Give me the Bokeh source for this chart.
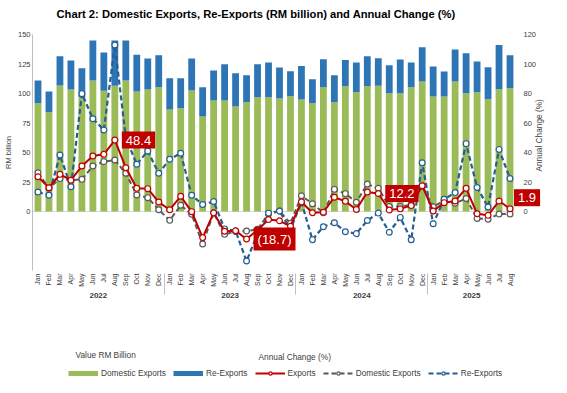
import math
from bokeh.plotting import figure
from bokeh.layouts import column
from bokeh.models import (FactorRange, Range1d, LinearAxis, FixedTicker, Span,
                          Label, Legend, LegendItem, ColumnDataSource)
from bokeh.embed import file_html
from bokeh.resources import INLINE

# ---------------- data ----------------
years = ["2022"] * 12 + ["2023"] * 12 + ["2024"] * 12 + ["2025"] * 8
months = (["Jan", "Feb", "Mar", "Apr", "May", "Jun", "Jul", "Aug", "Sep", "Oct", "Nov", "Dec"] * 3
          + ["Jan", "Feb", "Mar", "Apr", "May", "Jun", "Jul", "Aug"])

# RM billion
domestic_exports = [91.8, 84.2, 106.8, 103.4, 96.9, 111.0, 102.3, 106.5, 111.0, 101.7, 103.4, 105.4,
                    86.4, 87.6, 102.5, 80.6, 94.0, 94.0, 89.0, 92.6, 96.9, 96.9, 95.8, 97.7,
                    94.9, 91.8, 105.4, 92.6, 106.2, 101.1, 106.2, 106.5, 100.3, 100.3, 105.4, 110.2,
                    97.5, 97.5, 110.2, 100.3, 101.1, 95.2, 103.6, 104.5]
re_exports = [19.2, 17.5, 24.8, 24.6, 24.6, 33.9, 32.4, 38.5, 34.0, 31.1, 26.3, 27.1,
              26.6, 25.4, 27.2, 24.8, 25.5, 30.8, 28.2, 22.9, 27.9, 29.4, 26.2, 21.2,
              28.3, 20.3, 23.7, 22.9, 22.1, 25.2, 25.4, 23.4, 23.7, 28.5, 20.9, 29.1,
              25.4, 21.1, 27.1, 33.9, 26.0, 27.1, 37.4, 28.0]

# Annual change (%)
exports_chg = [23.6, 16.1, 25.2, 21.2, 30.8, 37.6, 38.8, 48.4, 29.7, 15.7, 15.5, 6.4,
               1.2, 10.3, -0.1, -17.7, -0.9, -13.4, -13.0, -18.7, -12.5, -5.5, -6.3, -10.0,
               6.5, -0.8, -0.5, 9.7, 6.9, 1.4, 13.2, 12.2, 1.0, 1.8, 4.0, 17.5,
               0.3, 6.0, 7.1, 15.7, -1.5, -2.6, 7.1, 1.9]
domestic_chg = [26.3, 15.7, 22.3, 21.2, 21.8, 30.8, 33.8, 34.9, 25.9, 11.2, 9.4, 1.2,
                -6.0, 4.2, -1.9, -22.0, -1.0, -15.5, -13.5, -13.2, -12.1, -1.7, 0.3, -8.0,
                10.7, 5.3, -0.8, 15.0, 12.1, 6.3, 18.6, 15.8, 3.4, 3.4, 4.5, 17.3,
                3.2, 7.4, 5.6, 8.8, -4.7, -5.2, -1.7, -1.7]
reexports_chg = [13.2, 11.0, 38.3, 16.8, 79.9, 62.9, 55.3, 112.9, 50.0, 32.0, 41.0, 25.9,
                 35.4, 39.5, 11.0, 4.7, 6.8, -11.8, -13.2, -33.6, -15.0, -1.1, 0.3, -12.1,
                 6.4, -19.1, -10.3, -7.6, -13.7, -15.0, -6.1, -1.1, -14.1, -4.0, -19.2, 33.1,
                 -8.3, 8.3, 12.8, 46.0, 16.3, 3.1, 42.1, 22.4]

# months whose export change is labelled
labelled = [("2022", "Aug"), ("2023", "Aug"), ("2024", "Aug"), ("2025", "Aug")]

left_ticks = [0, 25, 50, 75, 100, 125, 150]
right_ticks = [0, 20, 40, 60, 80, 100, 120]

# ---------------- styling ----------------
FONT = "Liberation Sans"
GREEN = "#9bbb59"
BLUE = "#2e75b6"
RED = "#c00000"
GREY = "#595959"
DBLUE = "#255e91"
TXT = "#404040"
FW = 483  # frame width shared by both strips

factors = list(zip(years, months))
src = ColumnDataSource(dict(x=factors, dom=domestic_exports, re=re_exports,
                            ex=exports_chg, dc=domestic_chg, rc=reexports_chg))

p = figure(frame_width=FW, frame_height=236, output_backend="svg", toolbar_location=None,
           x_range=FactorRange(*factors, factor_padding=0, group_padding=0, range_padding=0),
           y_range=Range1d(-50, 150),
           min_border_left=26, min_border_right=42, min_border_top=34, min_border_bottom=64,
           background_fill_color="white", border_fill_color="white")
p.extra_y_ranges = {"pct": Range1d(-40, 120)}
p.outline_line_color = None
p.xgrid.grid_line_color = None
p.ygrid.grid_line_color = None
p.title.visible = False

# chart title: label placed in the top panel (outside the frame)
p.add_layout(Label(x=2.19, y=167.2,
                   text="Chart 2: Domestic Exports, Re-Exports (RM billion) and Annual Change (%)",
                   text_align="left", text_baseline="middle", text_font=FONT,
                   text_font_size="11.2px", text_font_style="bold", text_color="black"), "above")

# zero line
p.add_layout(Span(location=0, dimension="width", line_color="#d9d9d9", line_width=1, level="underlay"))

# stacked bars
p.vbar_stack(["dom", "re"], x="x", width=0.62, source=src, color=[GREEN, BLUE], line_color=None)

# lines
def series(fig, col, color, dash, width, source):
    ln = fig.line("x", col, source=source, line_color=color, line_width=width, line_dash=dash,
                  y_range_name="pct")
    sc = fig.scatter("x", col, source=source, marker="circle", size=5.8, fill_color="white",
                     line_color=color, line_width=1.2, y_range_name="pct")
    return ln, sc

series(p, "dc", GREY, "5 3", 2, src)
series(p, "rc", DBLUE, "5 3", 2.2, src)
series(p, "ex", RED, "solid", 2, src)

# axes
ya = p.yaxis[0]
ya.ticker = FixedTicker(ticks=left_ticks)
ya.axis_line_color = "#bfbfbf"
ya.major_tick_line_color = None
ya.major_tick_out = 0
ya.major_tick_in = 0
ya.minor_tick_line_color = None
ya.minor_tick_out = 0
ya.major_label_standoff = 2
ya.major_label_text_font = FONT
ya.major_label_text_font_size = "7.5px"
ya.major_label_text_color = TXT
ya.axis_label = "RM billion"
ya.axis_label_standoff = 2
ya.axis_label_text_font = FONT
ya.axis_label_text_font_size = "7.5px"
ya.axis_label_text_font_style = "normal"
ya.axis_label_text_color = TXT

ra = LinearAxis(y_range_name="pct", ticker=FixedTicker(ticks=right_ticks))
ra.axis_line_color = None
ra.major_tick_line_color = None
ra.major_tick_out = 0
ra.major_tick_in = 0
ra.minor_tick_line_color = None
ra.minor_tick_out = 0
ra.major_label_standoff = 8
ra.major_label_text_font = FONT
ra.major_label_text_font_size = "7.5px"
ra.major_label_text_color = TXT
p.add_layout(ra, "right")

# right-hand axis title: rotated label placed in the right-hand panel
p.add_layout(Label(x=46.1, y=64.5, text="Annual Change (%)", angle=math.pi / 2,
                   text_align="center", text_baseline="middle", text_font=FONT,
                   text_font_size="8.3px", text_color=TXT), "right")

xa = p.xaxis[0]
xa.axis_line_color = None
xa.major_tick_line_color = None
xa.major_tick_out = 0
xa.major_tick_in = 0
xa.minor_tick_line_color = None
xa.minor_tick_out = 0
xa.major_label_standoff = 3
xa.major_label_orientation = math.pi / 2
xa.major_label_text_font = FONT
xa.major_label_text_font_size = "7px"
xa.major_label_text_color = TXT
xa.group_text_font = FONT
xa.group_text_font_size = "8px"
xa.group_text_color = TXT
xa.separator_line_color = "#bfbfbf"
xa.separator_line_width = 1

# data labels (the last one sits beside the frame, so it goes in a side panel)
xoff = [7, 7, 7, 4]
yoff = [0, 0, 0, 11]
for k, f in enumerate(labelled):
    i = factors.index(f)
    v = exports_chg[i]
    txt = f"({abs(v):.1f})" if v < 0 else f"{v:.1f}"
    lab = Label(x=i + 0.5, y=v, y_range_name="pct", text=txt, x_offset=xoff[k], y_offset=yoff[k],
                text_align="left", text_baseline="middle", text_font=FONT,
                text_font_size="13px", text_color="white",
                background_fill_color=RED, padding=4)
    p.add_layout(lab, "below" if k == len(labelled) - 1 else "center")

# ---------------- legend strip ----------------
p2 = figure(frame_width=FW, frame_height=51, output_backend="svg", toolbar_location=None,
            x_range=Range1d(0, 1), y_range=Range1d(0, 1), x_axis_type=None, y_axis_type=None,
            min_border_left=26, min_border_right=42, min_border_top=0, min_border_bottom=0,
            background_fill_color="white", border_fill_color="white")
p2.extra_y_ranges = {"pct": Range1d(0, 1)}
p2.outline_line_color = None
p2.title.visible = False

# legend proxies (one point each, placed outside the visible range)
lsrc = ColumnDataSource(dict(x=[-5], dc=[-5], rc=[-5], ex=[-5]))
dg = p2.line([-5, -4], [-5, -4], line_color=GREEN, line_width=5)
db = p2.line([-5, -4], [-5, -4], line_color=BLUE, line_width=5)
l_ex = series(p2, "ex", RED, "solid", 2, lsrc)
l_dc = series(p2, "dc", GREY, "5 3", 2, lsrc)
l_rc = series(p2, "rc", DBLUE, "5 3", 2.2, lsrc)

legend = Legend(items=[LegendItem(label="Domestic Exports", renderers=[dg]),
                       LegendItem(label="Re-Exports", renderers=[db]),
                       LegendItem(label="Exports", renderers=list(l_ex)),
                       LegendItem(label="Domestic Exports", renderers=list(l_dc)),
                       LegendItem(label="Re-Exports", renderers=list(l_rc))],
                orientation="horizontal", location=(36, 7),
                glyph_width=30, glyph_height=8, label_height=8, label_standoff=3, spacing=7,
                padding=0, margin=0, background_fill_alpha=0, border_line_color=None,
                label_text_font=FONT, label_text_font_size="8.3px", label_text_color=TXT)
p2.add_layout(legend, "center")
p2.add_layout(Label(x=43, y=31, x_units="screen", y_units="screen", text="Value RM Billion",
                    text_align="left", text_baseline="middle",
                    text_font=FONT, text_font_size="8.3px", text_color=TXT))
p2.add_layout(Label(x=226, y=29, x_units="screen", y_units="screen", text="Annual Change (%)",
                    text_align="left", text_baseline="middle",
                    text_font=FONT, text_font_size="8.3px", text_color=TXT))

open("out.html", "w").write(file_html(column(p, p2, spacing=0), INLINE))
